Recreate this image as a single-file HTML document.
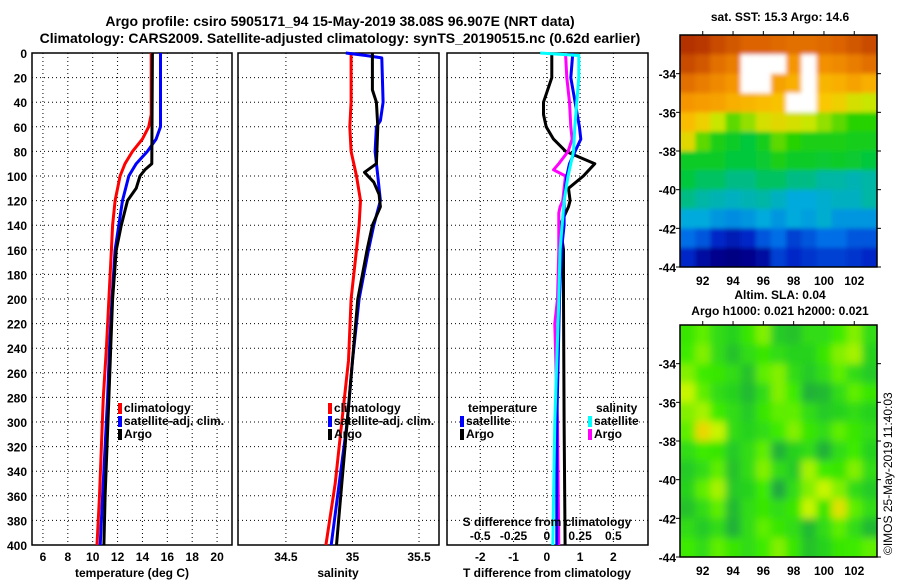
<!DOCTYPE html>
<html><head><meta charset="utf-8"><style>
html,body{margin:0;padding:0;background:#fff;}
svg text{font-family:"Liberation Sans",Arial,sans-serif;font-weight:bold;fill:#000;}
</style></head><body>
<svg id="c" width="900" height="580" viewBox="0 0 900 580" xmlns="http://www.w3.org/2000/svg">
<defs>
<filter id="blur" x="0" y="0" width="1" height="1"><feGaussianBlur stdDeviation="4"/></filter>
<filter id="blur2" x="0" y="0" width="1" height="1"><feGaussianBlur stdDeviation="2"/></filter>
<clipPath id="clipSla"><rect x="680" y="325" width="197" height="232"/></clipPath>
<clipPath id="clipSst"><rect x="680" y="35" width="197" height="232"/></clipPath>
</defs>
<text x="340" y="26" font-size="14" text-anchor="middle">Argo profile: csiro 5905171_94 15-May-2019 38.08S 96.907E (NRT data)</text>
<text x="340" y="43" font-size="14" text-anchor="middle">Climatology: CARS2009. Satellite-adjusted climatology: synTS_20190515.nc (0.62d earlier)</text>
<text x="780" y="21" font-size="12" text-anchor="middle">sat. SST: 15.3 Argo: 14.6</text>
<text x="780" y="299" font-size="12" text-anchor="middle">Altim. SLA: 0.04</text>
<text x="780" y="315" font-size="12" text-anchor="middle">Argo h1000: 0.021 h2000: 0.021</text>
<text transform="translate(892,555) rotate(-90)" font-size="12" style="font-weight:normal">©IMOS 25-May-2019 11:40:03</text>
</svg>
<script>
// ---------- data ----------
const depthTicks = [0,20,40,60,80,100,120,140,160,180,200,220,240,260,280,300,320,340,360,380,400];
const tTicks = [6,8,10,12,14,16,18,20];
const sTicks = [34.5,35,35.5];
const dTTicks = [-2,-1,0,1,2];
const dSTicks = [-0.5,-0.25,0,0.25,0.5];
const dSTickLabels = ["-0.5","-0.25","0","0.25","0.5"];

const tClimDepth = [0,50,60,70,80,90,100,120,140,160,200,240,280,320,360,400];
const tClim      = [14.7,14.7,14.5,14.0,13.2,12.6,12.2,11.8,11.6,11.5,11.3,11.1,10.85,10.7,10.55,10.35];
const tSatDepth  = [0,60,70,80,90,100,120,140,160,200,240,280,320,360,400];
const tSat       = [15.45,15.45,15.1,14.4,13.5,12.9,12.4,12.1,11.8,11.55,11.35,11.2,11.0,10.8,10.6];
const tArgoDepth = [0,90,95,100,110,120,140,160,200,240,280,320,360,400];
const tArgo      = [14.8,14.75,14.2,13.8,13.5,12.8,12.3,11.9,11.6,11.45,11.3,11.15,11.0,10.9];

const sClimDepth = [0,40,60,80,100,120,140,160,200,250,300,350,400];
const sClim      = [34.99,34.99,34.98,34.99,35.03,35.06,35.05,35.03,34.99,34.97,34.92,34.87,34.80];
const sSatDepth  = [0,2,4,40,55,60,80,100,120,140,160,200,250,300,350,400];
const sSat       = [34.95,35.1,35.22,35.23,35.21,35.18,35.17,35.19,35.21,35.16,35.12,35.05,35.0,34.96,34.9,34.84];
const sArgoDepth = [0,30,40,60,90,97,105,115,125,140,160,200,250,300,350,400];
const sArgo      = [35.15,35.15,35.18,35.19,35.18,35.09,35.16,35.2,35.21,35.15,35.11,35.04,35.0,34.96,34.92,34.88];

const dTArgoDepth = [0,20,40,50,60,70,80,90,100,110,120,125,140,160,200,300,400];
const dTArgo      = [0.15,0.15,-0.1,-0.1,-0.02,0.2,0.57,1.44,1.1,0.65,0.7,0.65,0.4,0.5,0.5,0.52,0.55];
const dTSatDepth  = [0,20,40,60,70,80,90,100,120,140,160,200,300,400];
const dTSat       = [0.78,0.72,0.85,0.98,1.02,0.85,0.68,0.6,0.52,0.52,0.44,0.38,0.3,0.3];
const dSSatDepth  = [0,2,20,60,80,100,120,160,200,300,400];
const dSSat       = [-0.05,0.24,0.24,0.21,0.2,0.16,0.13,0.1,0.09,0.06,0.045];
const dSArgoDepth = [0,20,40,60,70,80,90,95,100,110,120,125,130,160,200,220,300,400];
const dSArgo      = [0.14,0.15,0.17,0.18,0.19,0.16,0.09,0.05,0.14,0.13,0.12,0.1,0.09,0.09,0.08,0.06,0.08,0.09];

const mapLon = [91,92,93,94,95,96,97,98,99,100,101,102,103];
const mapLat = [-32.5,-33.5,-34.5,-35.5,-36.5,-37.5,-38.5,-39.5,-40.5,-41.5,-42.5,-43.5];
const lonTicks = [92,94,96,98,100,102];
const latTicks = [-34,-36,-38,-40,-42,-44];
const N = null;
const sst = [
[18.6,18.5,18.2,18.0,17.8,17.8,17.7,17.6,17.6,17.7,17.8,18.0,18.2],
[18.2,18.0,17.6,17.4,N,N,N,17.0,N,17.1,17.2,17.4,17.6],
[17.6,17.4,17.2,17.0,N,N,16.8,16.6,N,16.5,16.6,16.8,16.6],
[17.0,16.9,16.8,16.6,16.5,16.4,16.3,N,N,16.2,16.0,15.6,15.4],
[16.4,16.0,15.4,15.0,15.2,15.6,15.8,15.6,15.4,15.2,15.0,14.8,14.8],
[15.8,15.0,14.6,14.4,14.2,14.5,15.0,14.8,14.6,14.6,14.6,14.5,14.5],
[14.4,14.4,14.4,14.2,14.2,14.3,14.6,14.4,14.4,14.3,14.4,14.3,14.2],
[14.2,14.0,14.0,13.8,13.8,14.0,14.0,13.8,13.8,13.6,13.6,13.5,13.6],
[13.8,13.6,13.5,13.4,13.5,13.6,13.4,13.2,13.2,13.3,13.4,13.4,13.6],
[13.2,13.2,13.0,12.9,13.0,13.2,13.0,13.2,13.1,13.3,13.0,13.0,13.0],
[12.6,12.4,12.0,11.8,12.0,12.4,12.6,12.2,12.4,12.6,12.6,12.4,12.4],
[12.0,11.6,11.4,11.3,11.4,11.6,12.2,12.0,12.1,12.2,12.2,12.1,12.0]];
const sla = [
[0.02,0.04,0.00,-0.02,0.02,0.05,-0.03,-0.04,0.00,0.00,0.03,0.05,0.00],
[0.03,0.05,0.00,-0.04,0.00,0.02,0.00,-0.02,-0.02,0.02,0.05,0.06,-0.02],
[0.05,0.03,0.02,0.00,-0.04,0.04,0.05,0.00,-0.03,0.00,0.04,0.00,-0.03],
[0.07,0.04,0.00,-0.02,-0.05,0.00,0.05,0.03,-0.06,-0.05,0.00,0.04,0.02],
[0.05,0.06,0.03,0.00,-0.03,0.02,0.04,0.04,0.00,-0.03,-0.02,0.00,-0.02],
[0.04,0.10,0.07,0.00,-0.02,0.00,0.03,0.05,0.02,0.00,0.04,0.02,0.00],
[0.00,0.03,0.02,-0.03,0.00,0.04,-0.06,-0.02,0.00,-0.06,0.00,0.03,-0.02],
[-0.03,0.00,0.04,-0.04,0.00,0.05,0.00,-0.03,0.06,0.03,0.02,0.05,0.00],
[-0.02,0.04,0.06,-0.03,-0.02,0.03,-0.07,0.00,0.05,0.07,0.05,0.00,-0.03],
[-0.04,0.00,0.04,-0.05,0.00,0.02,0.00,0.02,0.07,0.02,0.09,0.04,0.00],
[0.00,-0.03,0.00,-0.06,0.00,0.04,0.02,0.00,-0.05,0.00,0.04,0.00,-0.05],
[0.03,0.00,0.04,0.02,0.00,0.03,0.05,0.02,-0.04,-0.02,0.02,0.03,0.04]];

// ---------- helpers ----------
const svg = document.getElementById('c');
const NS = 'http://www.w3.org/2000/svg';
function mk(tag, attrs, parent){ const e=document.createElementNS(NS,tag); for(const k in attrs) e.setAttribute(k,attrs[k]); (parent||svg).appendChild(e); return e; }
const Y0=53, Y1=545;
const yD = d => Y0 + d/400*(Y1-Y0);
const p1 = {x0:32,x1:232,v0:5.12,v1:21.2};
const p2 = {x0:238,x1:439,v0:34.14,v1:35.65};
const p3 = {x0:447,x1:648,v0:-3.0,v1:3.04};
const xT = v => p1.x0 + (v-p1.v0)/(p1.v1-p1.v0)*(p1.x1-p1.x0);
const xS = v => p2.x0 + (v-p2.v0)/(p2.v1-p2.v0)*(p2.x1-p2.x0);
const xDT = v => p3.x0 + (v-p3.v0)/(p3.v1-p3.v0)*(p3.x1-p3.x0);
const xDS = v => xDT(v*4);

function panel(p, xf, ticks, labels, name){
  const g = mk('g',{});
  
  
  for(const d of depthTicks){ if(d===0||d===400) continue;
    const l=mk('line',{x1:p.x0,x2:p.x1,y1:yD(d),y2:yD(d),stroke:'#000','stroke-width':1,'stroke-dasharray':'1,3'},g);
    
    
  }
  ticks.forEach((t,i)=>{ const x=xf(t);
    const l=mk('line',{x1:x,x2:x,y1:Y0,y2:Y1,stroke:'#000','stroke-width':1,'stroke-dasharray':'1,3'},g);
    
    
    const tx=mk('text',{x:x,y:561,'font-size':12,'text-anchor':'middle'},g); tx.textContent=labels?labels[i]:String(t);
    
    
  });
  const r=mk('rect',{x:p.x0,y:Y0,width:p.x1-p.x0,height:Y1-Y0,fill:'none',stroke:'#000','stroke-width':1.5},g);
  
  
  return g;
}
function line(depths, vals, xf, color, name, w){
  const pts = depths.map((d,i)=>xf(vals[i]).toFixed(1)+','+yD(d).toFixed(1)).join(' ');
  const pl = mk('polyline',{points:pts,fill:'none',stroke:color,'stroke-width':w||3,'stroke-linejoin':'round'});
  
  
}
function txt(x,y,s,size,anchor,name){
  const t=mk('text',{x:x,y:y,'font-size':size,'text-anchor':anchor||'start'}); t.textContent=s;
  
  
  return t;
}
function legendEntry(x,y,color,label,name){
  const r=mk('rect',{x:x,y:y-9,width:4,height:11,fill:color});
  
  
  txt(x+6,y,label,12,'start',name);
}

// panels
panel(p1,xT,tTicks,null,'temperature-panel');
panel(p2,xS,sTicks,null,'salinity-panel');
panel(p3,xDT,dTTicks,null,'difference-panel');
depthTicks.forEach(d=>{ txt(27,yD(d)+5,String(d),12,'end','y-tick-label'); });
txt(132,577,'temperature (deg C)',12,'middle','x-axis-title-temperature');
txt(338,577,'salinity',12,'middle','x-axis-title-salinity');
txt(547,577,'T difference from climatology',12,'middle','x-axis-title-t-diff');

// series
line(tClimDepth,tClim,xT,'#ff0000','temp-climatology-line');
line(tSatDepth,tSat,xT,'#0000ff','temp-satellite-line');
line(tArgoDepth,tArgo,xT,'#000000','temp-argo-line');
line(sClimDepth,sClim,xS,'#ff0000','sal-climatology-line');
line(sSatDepth,sSat,xS,'#0000ff','sal-satellite-line');
line(sArgoDepth,sArgo,xS,'#000000','sal-argo-line');
line(dTArgoDepth,dTArgo,xDT,'#000000','t-diff-argo-line');
line(dSArgoDepth,dSArgo,xDS,'#ff00ff','s-diff-argo-line');
line(dTSatDepth,dTSat,xDT,'#0000ff','t-diff-satellite-line');
line(dSSatDepth,dSSat,xDS,'#00ffff','s-diff-satellite-line');

// legends
legendEntry(118,412,'#ff0000','climatology','legend-climatology-t');
legendEntry(118,425,'#0000ff','satellite-adj. clim.','legend-satellite-t');
legendEntry(118,438,'#000000','Argo','legend-argo-t');
legendEntry(328,412,'#ff0000','climatology','legend-climatology-s');
legendEntry(328,425,'#0000ff','satellite-adj. clim.','legend-satellite-s');
legendEntry(328,438,'#000000','Argo','legend-argo-s');
txt(468,412,'temperature',12,'start','legend-title-temperature');
legendEntry(460,425,'#0000ff','satellite','legend-t-satellite');
legendEntry(460,438,'#000000','Argo','legend-t-argo');
txt(596,412,'salinity',12,'start','legend-title-salinity');
legendEntry(588,425,'#00ffff','satellite','legend-s-satellite');
legendEntry(588,438,'#ff00ff','Argo','legend-s-argo');
txt(547,526,'S difference from climatology',12,'middle','s-diff-axis-title');
dSTicks.forEach((v,i)=>{ txt(xDS(v),540,dSTickLabels[i],12,'middle','s-diff-tick-label'); });

// maps
const mx0=680,mx1=877,lonL=90.5,lonR=103.5;
const xLon = v => mx0 + (v-lonL)/(lonR-lonL)*(mx1-mx0);
function interp(stops, v){
  if(v<=stops[0][0]) return 'rgb('+stops[0][1]+')';
  for(let i=1;i<stops.length;i++){ if(v<=stops[i][0]){ const a=stops[i-1],b=stops[i],f=(v-a[0])/(b[0]-a[0]);
    return 'rgb('+a[1].map((c,k)=>Math.round(c+(b[1][k]-c)*f)).join(',')+')'; } }
  return 'rgb('+stops[stops.length-1][1]+')';
}
const sstStops=[[11.3,[0,0,130]],[12.0,[0,40,200]],[12.6,[0,110,230]],[13.2,[0,170,220]],[13.7,[0,185,150]],[14.2,[0,200,60]],[14.8,[40,210,0]],[15.4,[200,230,0]],[16.2,[250,200,0]],[17.0,[245,150,0]],[17.8,[220,100,0]],[18.6,[180,50,0]]];
const slaStops=[[-0.08,[30,160,70]],[-0.02,[40,210,30]],[0.03,[60,235,0]],[0.07,[200,245,0]],[0.1,[235,215,0]]];
function drawMap(y0,y1,grid,colorFn,name,clip,filt){
  const yLat = v => y0 + (-32 - v)/12*(y1-y0);
  const outer = mk('g',{'clip-path':'url(#'+clip+')'});
  
  
  const g = mk('g', {filter:'url(#'+filt+')'}, outer);
  const pad = 8;
  mapLat.forEach((la,r)=>{ mapLon.forEach((lo,c)=>{
    const v=grid[r][c];
    const xa=xLon(lo-0.5), xb=xLon(lo+0.5), ya=yLat(la+0.5), yb=yLat(la-0.5);
    const ex = c===0?-pad:0, ex2 = c===mapLon.length-1?pad:0, ey = r===0?-pad:0, ey2=r===mapLat.length-1?pad:0;
    const cell=mk('rect',{x:(xa+ex).toFixed(1),y:(ya+ey).toFixed(1),width:(xb-xa+ex2-ex+0.6).toFixed(1),height:(yb-ya+ey2-ey+0.6).toFixed(1),fill:v===null?'#ffffff':colorFn(v)},g);
    
    
  });});
  const fr=mk('rect',{x:mx0,y:y0,width:mx1-mx0,height:y1-y0,fill:'none',stroke:'#000','stroke-width':1.5});
  
  
  latTicks.forEach(la=>{ const y=yLat(la);
    const tk=mk('line',{x1:mx1,x2:mx1+4,y1:y,y2:y,stroke:'#000'});  
    const tk2=mk('line',{x1:mx0-4,x2:mx0,y1:y,y2:y,stroke:'#000'});  
    txt(mx0-4,y+5,String(la),12,'end','lat-tick-label'); });
  lonTicks.forEach(lo=>{ const x=xLon(lo);
    const tk=mk('line',{x1:x,x2:x,y1:y0-4,y2:y0,stroke:'#000'});   });
}
drawMap(35,267,sst,v=>interp(sstStops,v),'sst-map','clipSst','blur2');
lonTicks.forEach(lo=>{ txt(xLon(lo),285,String(lo),12,'middle','sst-lon-tick-label'); });
drawMap(325,557,sla,v=>interp(slaStops,v),'sla-map','clipSla','blur');
lonTicks.forEach(lo=>{ txt(xLon(lo),575,String(lo),12,'middle','sla-lon-tick-label'); });
</script>
</body></html>
